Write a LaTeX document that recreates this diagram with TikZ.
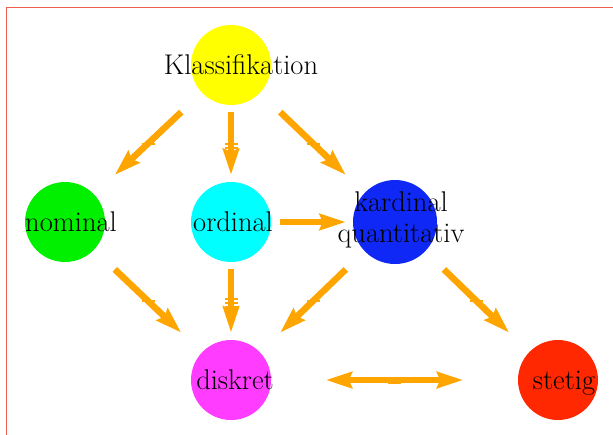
\documentclass[tikz,border=0pt]{standalone}
\usetikzlibrary{arrows.meta,calc}
\definecolor{arrowor}{RGB}{255,165,0}
\definecolor{frame}{RGB}{238,95,80}
\definecolor{cyel}{RGB}{255,255,0}
\definecolor{cgrn}{RGB}{0,240,0}
\definecolor{ccya}{RGB}{0,255,255}
\definecolor{cblu}{RGB}{15,40,245}
\definecolor{cmag}{RGB}{255,60,255}
\definecolor{cred}{RGB}{255,40,0}
\begin{document}
\begin{tikzpicture}[x=1pt,y=-1pt,
  blob/.style={circle,inner sep=0pt,minimum size=#1},
  lbl/.style={font=\fontsize{28.5}{32}\selectfont,inner sep=0pt,align=center},
  arr/.style={draw=arrowor,line width=6.5pt,-{Stealth[length=26pt,width=16pt,inset=3pt]}},
  darr/.style={draw=arrowor,line width=6.5pt,{Stealth[length=26pt,width=16pt,inset=3pt]}-{Stealth[length=26pt,width=16pt,inset=3pt]}},
  tk/.style={fill=arrowor,inner sep=0pt,minimum width=13pt,minimum height=2pt}
]
\useasboundingbox (0,0) rectangle (613,434);
\draw[frame,line width=1.3pt] (6.5,7.5) rectangle (700,500);
% circles
\node[blob=80pt,fill=cyel] (K) at (231,65) {};
\node[blob=80pt,fill=cgrn] (N) at (65,222) {};
\node[blob=80pt,fill=ccya] (O) at (231,222) {};
\node[blob=84pt,fill=cblu] (C) at (395,222) {};
\node[blob=80pt,fill=cmag] (D) at (231,380) {};
\node[blob=80pt,fill=cred] (S) at (558,380) {};
% arrows
\draw[arr] ($(K)!0.3!(N)$) -- ($(N)!0.3!(K)$);
\draw[arr] ($(K)!0.3!(O)$) -- ($(O)!0.3!(K)$);
\draw[arr] ($(K)!0.3!(C)$) -- ($(C)!0.3!(K)$);
\draw[arr] ($(O)!0.3!(C)$) -- ($(C)!0.3!(O)$);
\draw[arr] ($(N)!0.3!(D)$) -- ($(D)!0.3!(N)$);
\draw[arr] ($(O)!0.3!(D)$) -- ($(D)!0.3!(O)$);
\draw[arr] ($(C)!0.3!(D)$) -- ($(D)!0.3!(C)$);
\draw[arr] ($(C)!0.3!(S)$) -- ($(S)!0.3!(C)$);
\draw[darr] ($(D)!0.29!(S)$) -- ($(S)!0.29!(D)$);
% ticks
\node[tk] (t1) at ($(K)!0.5!(N)$) {};
\node[tk] (t2a) at ($(K)!0.5!(O)+(0,0)$) {};
\node[tk] (t2b) at ($(K)!0.5!(O)+(0,4)$) {};
\node[tk] (t2c) at ($(K)!0.5!(O)+(0,8)$) {};
\node[tk] (t3) at ($(K)!0.5!(C)$) {};
\node[tk] (t4) at ($(N)!0.5!(D)$) {};
\node[tk] (t5a) at ($(O)!0.5!(D)+(0,-2)$) {};
\node[tk] (t5b) at ($(O)!0.5!(D)+(0,2)$) {};
\node[tk] (t5c) at ($(O)!0.5!(D)+(0,6)$) {};
\node[tk] (t6) at ($(C)!0.5!(D)$) {};
\node[tk] (t7) at ($(C)!0.5!(S)$) {};
\node[tk] (t8) at ($(D)!0.5!(S)+(0,3)$) {};
% labels
\node[lbl,anchor=base] (lK) at (241,74) {Klassifikation};
\node[lbl,anchor=base] (lN) at (71,231) {nominal};
\node[lbl,anchor=base] (lO) at (233,231) {ordinal};
\node[lbl] (lC) at (401,220) {kardinal\\[-1pt]quantitativ};
\node[lbl,anchor=base] (lD) at (235,389) {diskret};
\node[lbl,anchor=base] (lS) at (564,389) {stetig};
\end{tikzpicture}
\end{document}
